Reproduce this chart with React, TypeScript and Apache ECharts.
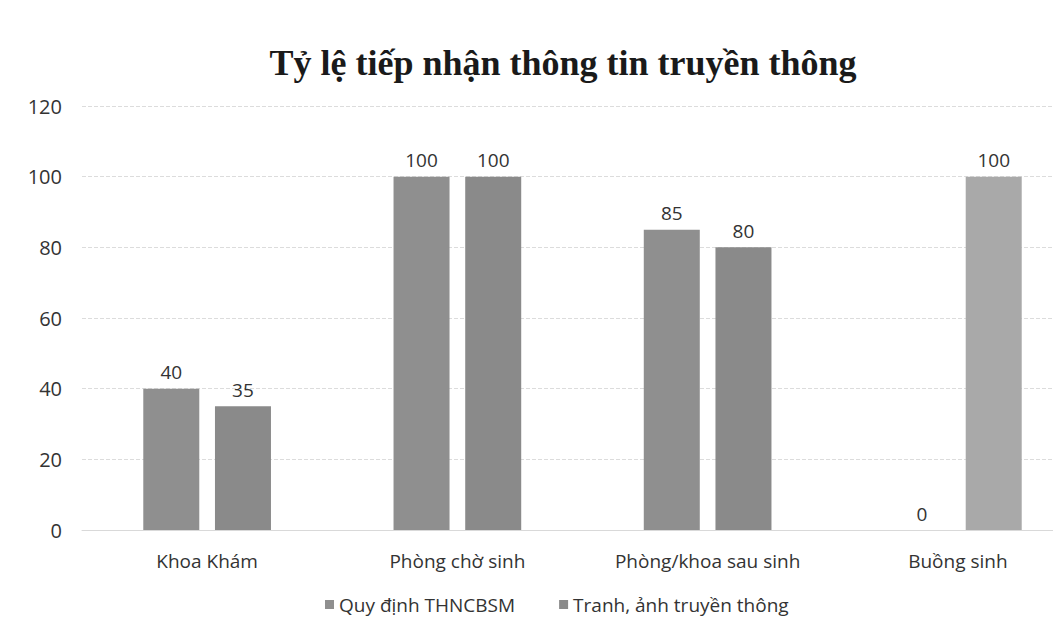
import React, { useEffect, useRef } from "react";
import * as echarts from "echarts";

const title = "Tỷ lệ tiếp nhận thông tin truyền thông";
const categories = ["Khoa Khám", "Phòng chờ sinh", "Phòng/khoa sau sinh", "Buồng sinh"];
const seriesNames = ["Quy định THNCBSM", "Tranh, ảnh truyền thông"];
const quyDinh = [40, 100, 85, 0];
const tranhAnh = [35, 100, 80, 100];
const yTicks = { min: 0, max: 120, interval: 20 };

const font = "'Open Sans', 'Noto Sans', sans-serif";

export default function App() {
  const ref = useRef<HTMLDivElement>(null);
  useEffect(() => {
    if (!ref.current) return;
    const chart = echarts.init(ref.current, undefined, { renderer: "svg" });
    const label = {
      show: true,
      position: "top" as const,
      distance: 7,
      color: "#333",
      fontSize: 19,
      fontFamily: font,
    };
    chart.setOption({
      animation: false,
      backgroundColor: "#ffffff",
      title: {
        text: title,
        left: 558,
        textAlign: "center",
        top: 40,
        textStyle: {
          fontFamily: "'Liberation Serif', 'DejaVu Serif', serif",
          fontWeight: "bold",
          fontSize: 36,
          color: "#1a1a1a",
        },
      },
      legend: {
        bottom: 21,
        left: 320,
        itemWidth: 9,
        itemHeight: 9,
        itemGap: 44,
        icon: "rect",
        textStyle: { fontFamily: font, fontSize: 19, color: "#333" },
        data: seriesNames,
      },
      grid: { left: 82, width: 1001, top: 106, height: 424, containLabel: false },
      xAxis: {
        type: "category",
        data: categories,
        axisLine: { show: true, lineStyle: { color: "#d9d9d9" } },
        axisTick: { show: false },
        axisLabel: { color: "#333", fontSize: 19, fontFamily: font, margin: 21 },
      },
      yAxis: {
        type: "value",
        min: yTicks.min,
        max: yTicks.max,
        interval: yTicks.interval,
        axisLine: { show: false },
        axisTick: { show: false },
        axisLabel: { color: "#333", fontSize: 20, fontFamily: font, margin: 20 },
        splitLine: { lineStyle: { color: "#dcdcdc", type: "dashed" } },
      },
      series: [
        {
          name: seriesNames[0],
          type: "bar",
          data: quyDinh,
          barWidth: 56,
          barGap: "28%",
          itemStyle: { color: "#8f8f8f" },
          label,
        },
        {
          name: seriesNames[1],
          type: "bar",
          data: tranhAnh.map((v, i) =>
            i === 3 ? { value: v, itemStyle: { color: "#a9a9a9" } } : v
          ),
          barWidth: 56,
          itemStyle: { color: "#8a8a8a" },
          label,
        },
      ],
    });
    return () => chart.dispose();
  }, []);
  return (
    <div
      style={{
        position: "fixed",
        left: 0,
        top: 0,
        width: 1053,
        height: 640,
        overflow: "hidden",
        background: "#fff",
      }}
    >
      <div ref={ref} style={{ width: 1095, height: 640 }} />
    </div>
  );
}
